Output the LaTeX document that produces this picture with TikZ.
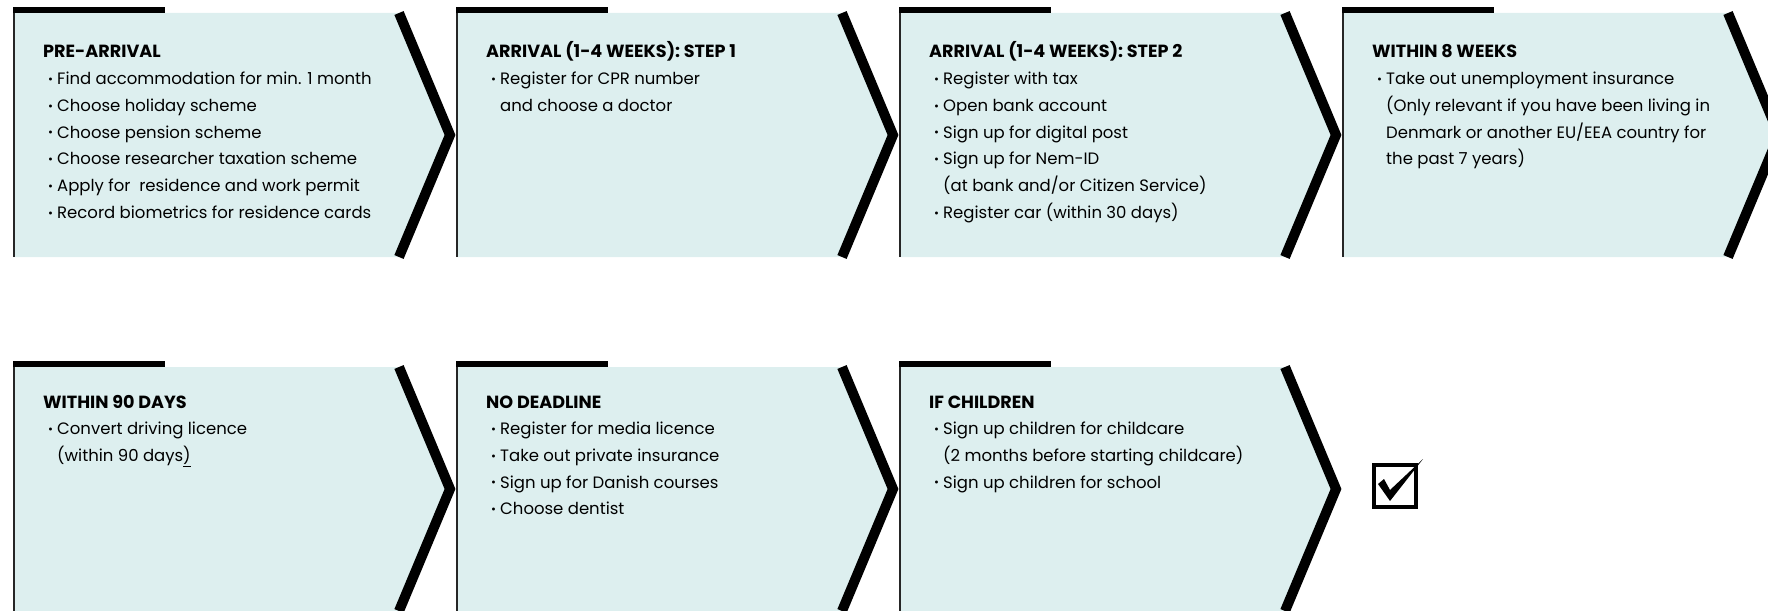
\documentclass[tikz,border=0pt]{standalone}
\usepackage{fontspec}
\setmainfont{Poppins}
\definecolor{boxfill}{HTML}{DDEFEF}
\tikzset{
  stepfill/.style={fill=boxfill, draw=none},
  chev/.style={draw=black, line width=10pt, line join=miter},
  topbar/.style={fill=black, draw=none},
  leftline/.style={draw=black!85, line width=2pt},
  txt/.style={inner sep=0pt, anchor=base west, font=\fontsize{16.5}{26.7}\selectfont},
  chkbox/.style={draw=black, line width=4pt, minimum size=42pt, inner sep=0pt},
}
\newcommand\bl[1]{\hspace*{5pt}\makebox[9pt][l]{\fontsize{12}{12}\selectfont\raisebox{1.2pt}{•}}#1}
\newcommand\cl[1]{\hspace*{14pt}#1}
\newcommand\ttl[1]{{\fontsize{17.6}{26.7}\selectfont\textbf{#1}}}
\newcommand\stepbox[2]{%
  \fill[stepfill] (#1,#2) -- (#1+386,#2) -- (#1+437,#2+122) -- (#1+386,#2+244) -- (#1,#2+244) -- cycle;
  \draw[chev] (#1+386,#2) -- (#1+437,#2+122) -- (#1+386,#2+244);
  \fill[topbar] (#1,#2-6) rectangle (#1+152,#2);
  \draw[leftline] (#1+1,#2) -- (#1+1,#2+244);
}
\begin{document}
\begin{tikzpicture}[x=1pt,y=-1pt]
\useasboundingbox (0,0) rectangle (1768,610);
\clip (0,0) rectangle (1768,610);
\stepbox{13}{13}
\stepbox{456}{13}
\stepbox{899}{13}
\stepbox{1342}{13}
\stepbox{13}{367}
\stepbox{456}{367}
\stepbox{899}{367}

\node[txt] (s1) at (43,58) {\begin{tabular}[t]{@{}l@{}}
\ttl{PRE-ARRIVAL}\\
\bl{Find accommodation for min. 1 month}\\
\bl{Choose holiday scheme}\\
\bl{Choose pension scheme}\\
\bl{Choose researcher taxation scheme}\\
\bl{Apply for~ residence and work permit}\\
\bl{Record biometrics for residence cards}
\end{tabular}};

\node[txt] (s2) at (486,58) {\begin{tabular}[t]{@{}l@{}}
\ttl{ARRIVAL (1-4 WEEKS): STEP 1}\\
\bl{Register for CPR number}\\
\cl{and choose a doctor}
\end{tabular}};

\node[txt] (s3) at (929,58) {\begin{tabular}[t]{@{}l@{}}
\ttl{ARRIVAL (1-4 WEEKS): STEP 2}\\
\bl{Register with tax}\\
\bl{Open bank account}\\
\bl{Sign up for digital post}\\
\bl{Sign up for Nem-ID}\\
\cl{(at bank and/or Citizen Service)}\\
\bl{Register car (within 30 days)}
\end{tabular}};

\node[txt] (s4) at (1372,58) {\begin{tabular}[t]{@{}l@{}}
\ttl{WITHIN 8 WEEKS}\\
\bl{Take out unemployment insurance}\\
\cl{(Only relevant if you have been living in}\\
\cl{Denmark or another EU/EEA country for}\\
\cl{the past 7 years)}
\end{tabular}};

\node[txt] (s5) at (43,408) {\begin{tabular}[t]{@{}l@{}}
\ttl{WITHIN 90 DAYS}\\
\bl{Convert driving licence}\\
\cl{(within 90 days\underline{)}}
\end{tabular}};

\node[txt] (s6) at (486,408) {\begin{tabular}[t]{@{}l@{}}
\ttl{NO DEADLINE}\\
\bl{Register for media licence}\\
\bl{Take out private insurance}\\
\bl{Sign up for Danish courses}\\
\bl{Choose dentist}
\end{tabular}};

\node[txt] (s7) at (929,408) {\begin{tabular}[t]{@{}l@{}}
\ttl{IF CHILDREN}\\
\bl{Sign up children for childcare}\\
\cl{(2 months before starting childcare)}\\
\bl{Sign up children for school}
\end{tabular}};

\node[chkbox] (chk) at (1395,486) {};
\fill[black] (1378,484) -- (1384,479) -- (1390,490) -- (1423,459) -- (1390,501) -- cycle;
\end{tikzpicture}
\end{document}
